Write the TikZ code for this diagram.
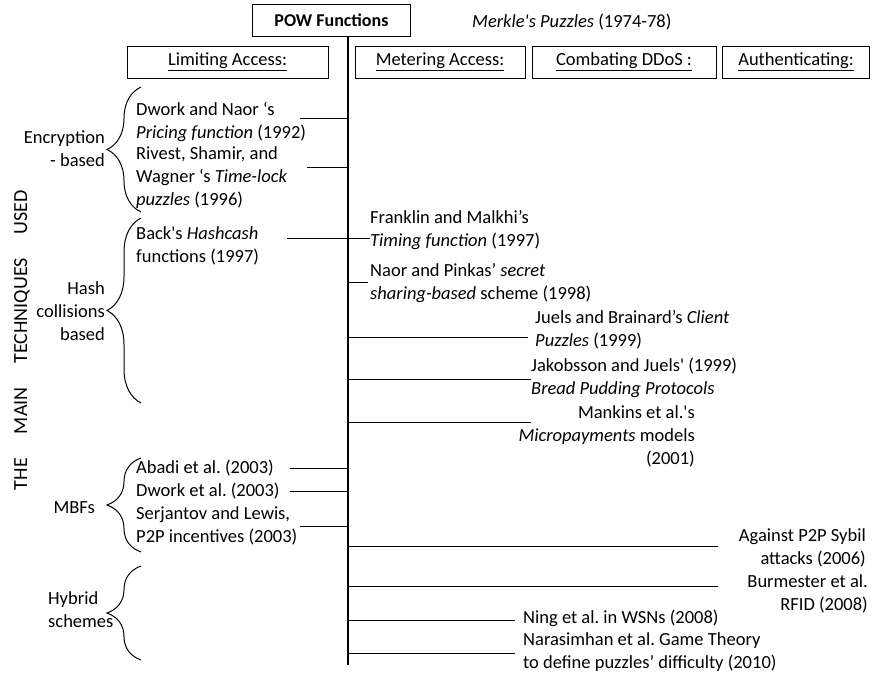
\documentclass[tikz,border=0pt]{standalone}
\usepackage{fontspec}
\setmainfont{Carlito}[Ligatures=TeXOff]
\usetikzlibrary{decorations.pathreplacing}
\frenchspacing
\tikzset{
  txt/.style={inner sep=0pt,align=left,font=\fontsize{18.5}{23}\selectfont},
  txtr/.style={txt,align=right},
  head/.style={draw,line width=0.8pt,minimum height=32pt,inner sep=0pt,font=\fontsize{18.5}{23}\selectfont},
  conn/.style={line width=1pt},
  lbrace/.style={decorate,decoration={brace,amplitude=34pt},line width=1pt}
}
\begin{document}
\begin{tikzpicture}[x=1pt,y=-1pt]
\useasboundingbox (0,0) rectangle (872,677);
% top and column heads
\node [head,minimum width=158pt,font=\bfseries\fontsize{18}{23}\selectfont] (pow) at (331.5,20) {POW Functions};
\node [txt,anchor=west] (merkle) at (472,22) {\textit{Merkle's Puzzles} (1974-78)};
\node [head,minimum width=201pt] (lim) at (227.5,62) {\underline{Limiting Access:}};
\node [head,minimum width=170pt] (met) at (440,62) {\underline{Metering Access:}};
\node [head,minimum width=184pt] (ddos) at (624,62) {\underline{Combating DDoS :}};
\node [head,minimum width=147pt] (auth) at (796,62) {\underline{Authenticating:}};
\node [rotate=90,inner sep=0pt,font=\fontsize{20}{24}\selectfont] (title) at (22,340) {THE\hspace{24pt}MAIN\hspace{24pt}TECHNIQUES\hspace{24pt}USED};
% spine
\coordinate (sptop) at (348,37);
\coordinate (spbot) at (348,665);
\draw [line width=1.4pt] (sptop) -- (spbot);
% groups
\draw [lbrace] (141,212) -- (141,87);
\draw [lbrace] (141,403) -- (141,218);
\draw [lbrace] (141,552) -- (141,458);
\draw [lbrace] (141,660) -- (141,566);
\node [txtr,anchor=east] (enc) at (105,149) {Encryption\\- based};
\node [txtr,anchor=east] (hash) at (105,311) {Hash\\collisions\\based};
\node [txtr,anchor=east] (mbf) at (95,508) {MBFs};
\node [txt,anchor=west] (hyb) at (48,610) {Hybrid\\schemes};
% left items
\node [txt,anchor=west] (dnaor) at (136,121.5) {Dwork and Naor ‘s\\\textit{Pricing function} (1992)};
\node [txt,anchor=west] (rsw) at (136,178) {Rivest, Shamir, and\\Wagner ‘s \textit{Time-lock}\\\textit{puzzles} (1996)};
\node [txt,anchor=west] (back) at (136,246) {Back's \textit{Hashcash}\\functions (1997)};
\node [txt,anchor=west] (abadi) at (136,468) {Abadi et al. (2003)};
\node [txt,anchor=west] (dwork) at (136,491) {Dwork et al. (2003)};
\node [txt,anchor=west] (serj) at (136,525.5) {Serjantov and Lewis,\\P2P incentives (2003)};
% right items
\node [txt,anchor=west] (frank) at (370,230) {Franklin and Malkhi’s\\\textit{Timing function} (1997)};
\node [txt,anchor=west] (pinkas) at (370,283.5) {Naor and Pinkas’ \textit{secret}\\\textit{sharing-based} scheme (1998)};
\node [txt,anchor=west] (juels) at (535,330) {Juels and Brainard’s \textit{Client}\\\textit{Puzzles} (1999)};
\node [txt,anchor=west] (bread) at (531,377.5) {Jakobsson and Juels' (1999)\\\textit{Bread Pudding Protocols}};
\node [txtr,anchor=east] (mank) at (695,436) {Mankins et al.'s\\\textit{Micropayments} models\\(2001)};
\node [txtr,anchor=east] (sybil) at (866,548) {Against P2P Sybil\\attacks (2006)};
\node [txtr,anchor=east] (burm) at (868,593.5) {Burmester et al.\\RFID (2008)};
\node [txt,anchor=west] (ning) at (523,618) {Ning et al. in WSNs (2008)};
\node [txt,anchor=west] (nara) at (523,652.5) {Narasimhan et al. Game Theory\\to define puzzles’ difficulty (2010)};
% connectors
\coordinate (cdnaor) at (300,118);
\coordinate (crsw) at (307,167);
\coordinate (cback) at (287,238);
\coordinate (cfrank) at (370,238);
\coordinate (cpinkas) at (368,282);
\coordinate (cjuels) at (528,337);
\coordinate (cbread) at (531,379);
\coordinate (cmank) at (531,422);
\coordinate (cabadi) at (290,468);
\coordinate (cdwork) at (290,491);
\coordinate (cserj) at (300,526);
\coordinate (csybil) at (718,546);
\coordinate (cburm) at (718,586);
\coordinate (cning) at (515,620);
\coordinate (cnara) at (515,653);
\draw [conn] (cdnaor) -- (cdnaor -| sptop);
\draw [conn] (crsw) -- (crsw -| sptop);
\draw [conn] (cback) -- (cfrank);
\draw [conn] (cpinkas -| sptop) -- (cpinkas);
\draw [conn] (cjuels -| sptop) -- (cjuels);
\draw [conn] (cbread -| sptop) -- (cbread);
\draw [conn] (cmank -| sptop) -- (cmank);
\draw [conn] (cabadi) -- (cabadi -| sptop);
\draw [conn] (cdwork) -- (cdwork -| sptop);
\draw [conn] (cserj) -- (cserj -| sptop);
\draw [conn] (csybil -| sptop) -- (csybil);
\draw [conn] (cburm -| sptop) -- (cburm);
\draw [conn] (cning -| sptop) -- (cning);
\draw [conn] (cnara -| sptop) -- (cnara);
\end{tikzpicture}
\end{document}
